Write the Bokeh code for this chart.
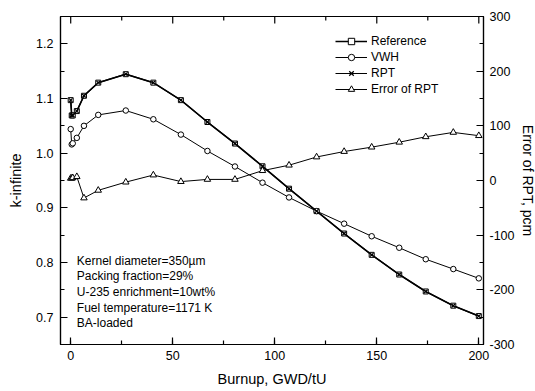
import math
from bokeh.plotting import figure
from bokeh.models import (Range1d, LinearAxis, SingleIntervalTicker, Legend, LegendItem, Label,
                          PrintfTickFormatter)
from bokeh.embed import file_html
from bokeh.resources import INLINE

# ---- data ----
burnup = [0, 0.5, 1, 3, 6.5, 13.5, 27, 40.5, 54, 67, 80.5, 94, 107, 120.5, 134, 147.5, 161, 174, 187.5, 200]
reference = [1.097, 1.069, 1.069, 1.077, 1.105, 1.129, 1.1445, 1.129, 1.097, 1.057, 1.0176, 0.976,
             0.935, 0.894, 0.853, 0.814, 0.778, 0.747, 0.721, 0.702]
vwh = [1.044, 1.016, 1.018, 1.028, 1.050, 1.070, 1.078, 1.062, 1.034, 1.004, 0.9756, 0.946,
       0.919, 0.894, 0.871, 0.848, 0.827, 0.806, 0.788, 0.771]
rpt = [1.097, 1.069, 1.069, 1.077, 1.105, 1.129, 1.1445, 1.129, 1.097, 1.057, 1.0176, 0.976,
       0.935, 0.894, 0.853, 0.814, 0.778, 0.747, 0.721, 0.702]
err_rpt = [4, 4, 5, 7, -32, -18, -3, 10, -2, 2, 2, 18, 28, 43, 53, 61, 70, 80, 88, 82]

x_major_ticks = [0, 50, 100, 150, 200]
x_minor_ticks = [25, 75, 125, 175]

series_names = ["Reference", "VWH", "RPT", "Error of RPT"]
note_lines = ["Kernel diameter=350\u00b5m", "Packing fraction=29%", "U-235 enrichment=10wt%",
              "Fuel temperature=1171 K", "BA-loaded"]
x_title = "Burnup, GWD/tU"
y_title = "k-infinite"
y2_title = "Error of RPT, pcm"

FONT = "Liberation Sans"
Y_TOP = 1.25

p = figure(frame_width=423, frame_height=328, output_backend="svg", toolbar_location=None,
           x_range=Range1d(-5, 202.3), y_range=Range1d(0.65, Y_TOP),
           min_border_left=60, min_border_right=52, min_border_top=16, min_border_bottom=47,
           background_fill_color="white", border_fill_color="white")
p.grid.visible = False
p.outline_line_color = "black"
p.outline_line_width = 1.2
p.extra_y_ranges = {"err": Range1d(-300, 300)}

def style_axis(ax, label_size="12.5px"):
    ax.axis_line_color = "black"
    ax.axis_line_width = 1.2
    ax.major_tick_in = 7
    ax.major_tick_out = 0
    ax.minor_tick_in = 4
    ax.minor_tick_out = 0
    ax.major_tick_line_color = "black"
    ax.minor_tick_line_color = "black"
    ax.major_tick_line_width = 1.2
    ax.minor_tick_line_width = 1.2
    ax.major_label_text_font = FONT
    ax.major_label_text_font_size = label_size
    ax.major_label_text_color = "black"
    ax.axis_label_text_font = FONT
    ax.axis_label_text_font_size = "14.5px"
    ax.axis_label_text_font_style = "normal"
    ax.axis_label_text_color = "black"

xax = p.xaxis[0]
xax.ticker = SingleIntervalTicker(interval=50, num_minor_ticks=2)
xax.axis_label = x_title
style_axis(xax)
xax.major_label_standoff = 6
xax.axis_label_standoff = 8

yax = p.yaxis[0]
yax.ticker = SingleIntervalTicker(interval=0.1, num_minor_ticks=2)
yax.formatter = PrintfTickFormatter(format="%.1f")
yax.axis_label = y_title
style_axis(yax)
yax.major_label_standoff = 7
yax.axis_label_standoff = 9

rax = LinearAxis(y_range_name="err", ticker=SingleIntervalTicker(interval=100, num_minor_ticks=2),
                 formatter=PrintfTickFormatter(format="%d"))
rax.axis_label = y2_title
style_axis(rax)
rax.axis_label_text_font_size = "14px"
rax.major_label_standoff = 6
rax.axis_label_standoff = 2
p.add_layout(rax, "right")

# top frame ticks (inward), clipped half by the frame
p.scatter(x_major_ticks, [Y_TOP] * len(x_major_ticks), marker="dash", angle=math.pi / 2, size=14,
          line_color="black", line_width=1.2)
p.scatter(x_minor_ticks, [Y_TOP] * len(x_minor_ticks), marker="dash", angle=math.pi / 2, size=8,
          line_color="black", line_width=1.2)

# ---- glyphs ----
ref_l = p.line(burnup, reference, line_color="black", line_width=1.6)
ref_m = p.scatter(burnup, reference, marker="square", size=5, line_color="black", fill_color="white", line_width=1)
vwh_l = p.line(burnup, vwh, line_color="black", line_width=1)
vwh_m = p.scatter(burnup, vwh, marker="circle", size=5.5, line_color="black", fill_color="white", line_width=1)
rpt_l = p.line(burnup, rpt, line_color="black", line_width=1.2)
rpt_m = p.scatter(burnup, rpt, marker="x", size=5, line_color="black", line_width=1.2)
err_l = p.line(burnup, err_rpt, line_color="black", line_width=1, y_range_name="err")
err_m = p.scatter(burnup, err_rpt, marker="triangle", size=6.5, line_color="black", fill_color="white",
                  line_width=1, y_range_name="err")

legend = Legend(items=[
    LegendItem(label=series_names[0], renderers=[ref_l, ref_m]),
    LegendItem(label=series_names[1], renderers=[vwh_l, vwh_m]),
    LegendItem(label=series_names[2], renderers=[rpt_l, rpt_m]),
    LegendItem(label=series_names[3], renderers=[err_l, err_m]),
], location=(275, 247))
legend.padding = 0
legend.margin = 0
legend.spacing = 0
legend.border_line_alpha = 0
legend.background_fill_alpha = 0
legend.glyph_width = 32
legend.glyph_height = 16
legend.label_height = 16
legend.label_standoff = 4
legend.label_text_font = FONT
legend.label_text_font_size = "12px"
legend.label_text_color = "black"
legend.label_text_baseline = "middle"
p.add_layout(legend, "center")

for i, line in enumerate(note_lines):
    p.add_layout(Label(x=3, y=0.803 - i * 0.0286, text=line, text_font=FONT, text_font_size="12px",
                       text_baseline="middle", text_color="black"))

open("out.html", "w").write(file_html(p, INLINE))
